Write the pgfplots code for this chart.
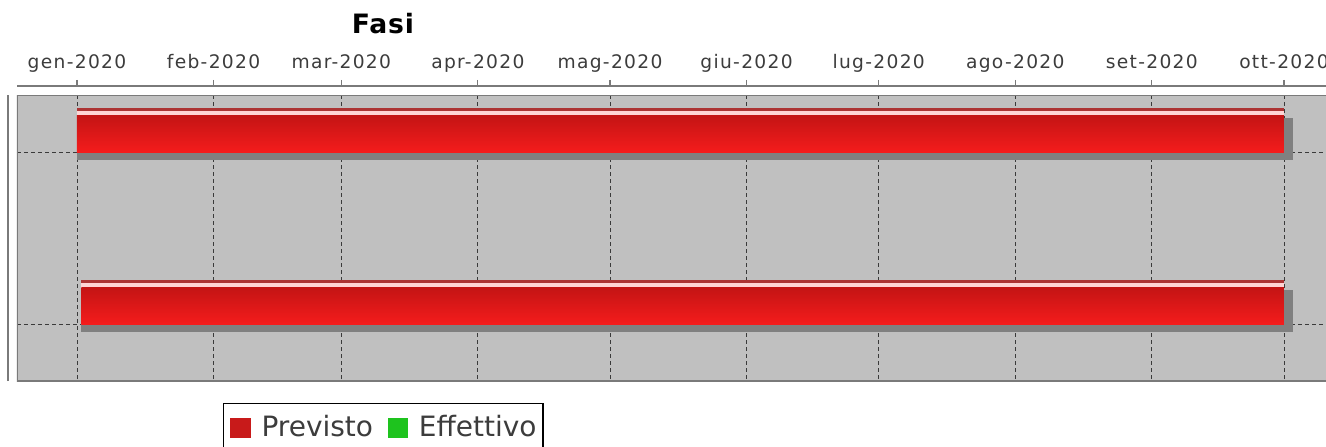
\documentclass[border=0pt]{standalone}
\usepackage{fontspec}
\setmainfont{DejaVu Sans}
\newfontfamily\tickfont{DejaVu Sans}[LetterSpace=7]
\newfontfamily\titlefont{DejaVu Sans}[LetterSpace=3]
\usepackage{pgfplots}
\pgfplotsset{compat=1.18}

\definecolor{plotbg}{HTML}{C0C0C0}
\definecolor{gridc}{HTML}{3A3A3A}
\definecolor{framec}{HTML}{7A7A7A}
\definecolor{barTop}{HTML}{AC3434}
\definecolor{barHi}{HTML}{FFD4D4}
\definecolor{barUp}{HTML}{C41414}
\definecolor{barLow}{HTML}{F41C1C}
\definecolor{shadowc}{HTML}{808080}
\definecolor{prevC}{HTML}{C81A1A}
\definecolor{effC}{HTML}{1EC31E}
\definecolor{txt}{HTML}{3C3C3C}

% x in days from 1 Jan 2020, y in category units (1 = first phase)
% \fase{start}{end}{category}
\newcommand{\fase}[3]{%
  \addplot[fill=shadowc, draw=none] coordinates
    {(#1,#3-0.20) (#2+2.04,#3-0.20) (#2+2.04,#3+0.0465) (#1,#3+0.0465)} -- cycle;
  \addplot[fill=barTop, draw=none] coordinates
    {(#1,#3-0.2558) (#2,#3-0.2558) (#2,#3) (#1,#3)} -- cycle;
  \addplot[fill=barHi, draw=none] coordinates
    {(#1,#3-0.2355) (#2,#3-0.2355) (#2,#3-0.2122) (#1,#3-0.2122)} -- cycle;
  \addplot[top color=barUp, bottom color=barLow, draw=none] coordinates
    {(#1,#3-0.2122) (#2,#3-0.2122) (#2,#3) (#1,#3)} -- cycle;
}

\begin{document}
\begin{tikzpicture}
\begin{axis}[
    at={(12.75pt,48.75pt)}, anchor=south west,
    scale only axis, width=981.75pt, height=214.5pt,
    xmin=-13.62, xmax=283.54,
    ymin=0.6686, ymax=2.3314, y dir=reverse,
    axis background/.style={fill=plotbg},
    axis line style={draw=none},
    xtick={0,31,60,91,121,152,182,213,244,274}, xticklabels={},
    ytick={1,2}, yticklabels={},
    major tick length=0pt,
    xmajorgrids, ymajorgrids,
    grid style={gridc, dash pattern=on 3pt off 2.25pt, line width=0.6pt},
    title={Fasi},
    title style={at={(0.2796,1.1871)}, anchor=base, inner sep=0pt,
      font=\titlefont\bfseries\fontsize{20}{24}\selectfont},
    legend columns=2,
    legend style={at={(0.15737,-0.07692)}, anchor=north west,
      draw=black, line width=1.1pt, text=txt,
      font=\fontsize{21}{25}\selectfont,
      inner xsep=5pt, inner ysep=8.25pt,
      nodes={inner sep=0pt, text depth=4pt},
      cells={anchor=base west},
      /tikz/every odd column/.append style={column sep=8pt},
      /tikz/every even column/.append style={column sep=11pt}},
  ]
  \addlegendimage{legend image code/.code={\fill[prevC] (0pt,-0.75pt) rectangle (14.25pt,12.75pt);}}
  \addlegendentry{Previsto}
  \addlegendimage{legend image code/.code={\fill[effC] (0pt,-0.75pt) rectangle (14.25pt,12.75pt);}}
  \addlegendentry{Effettivo}

  \fase{0}{274}{1}
  \fase{1}{274}{2}

  \draw[framec, line width=1.1pt]
    (rel axis cs:1,1) -- (rel axis cs:0,1) -- (rel axis cs:0,0) -- (rel axis cs:1,0);
\end{axis}

% date axis above the plot
\begin{axis}[
    at={(12.75pt,270pt)}, anchor=north west,
    scale only axis, width=981.75pt, height=0.75pt,
    xmin=-13.62, xmax=283.54, ymin=0, ymax=1,
    axis x line*=top, hide y axis,
    xtick={0,31,60,91,121,152,182,213,244,274},
    xticklabels={gen-2020,feb-2020,mar-2020,apr-2020,mag-2020,giu-2020,lug-2020,ago-2020,set-2020,ott-2020},
    tick align=outside, major tick length=4.5pt,
    tick style={framec, line width=0.9pt},
    axis line style={framec, line width=1.1pt},
    xticklabel style={anchor=base, yshift=8.25pt, text=txt,
      font=\tickfont\fontsize{14}{16}\selectfont},
  ]
\end{axis}

\draw[framec, line width=1.1pt] (6pt,48.75pt) -- (6pt,263.25pt);

\pgfresetboundingbox
\path (0pt,0pt) rectangle (994.5pt,334.5pt);
\end{tikzpicture}
\end{document}
